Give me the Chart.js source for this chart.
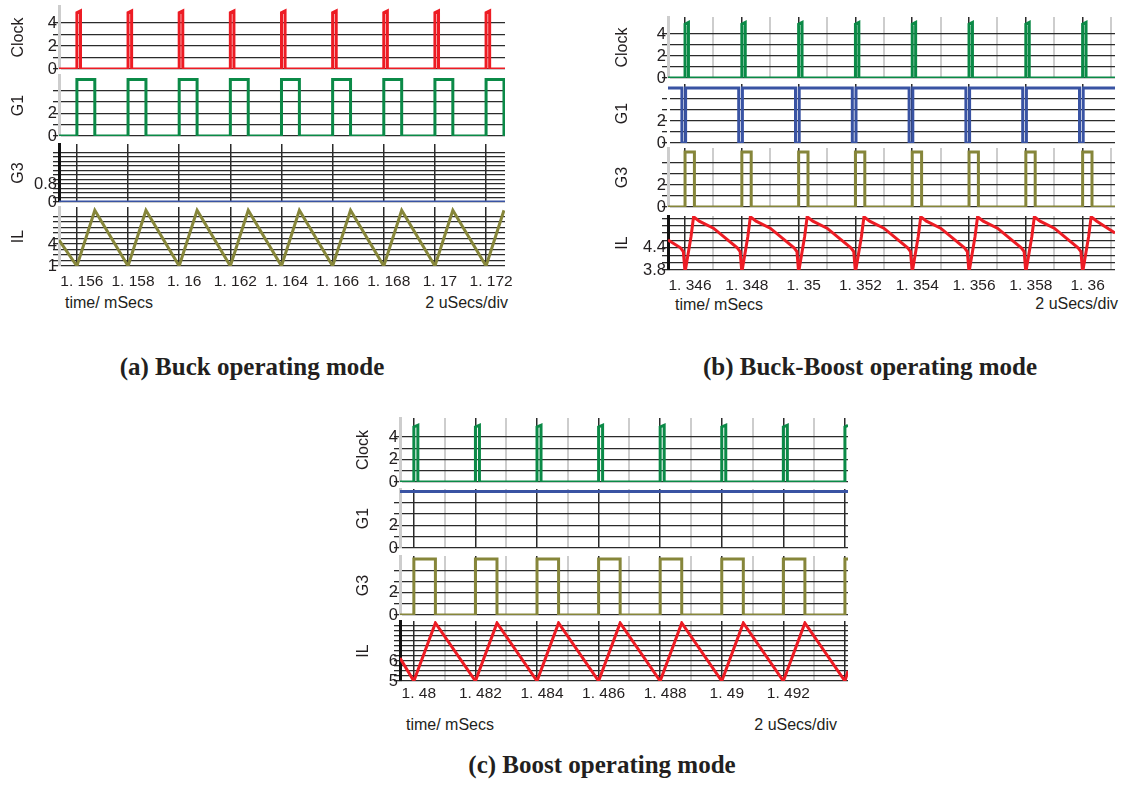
<!DOCTYPE html>
<html>
<head>
<meta charset="utf-8">
<script src="https://cdn.jsdelivr.net/npm/chart.js@4.4.1/dist/chart.umd.min.js"></script>
<style>
  body { margin: 0; background: #fff; width: 1125px; height: 785px; position: relative; overflow: hidden;
         font-family: "Liberation Sans", Arial, sans-serif; color: #231f20; }
  .box { position: absolute; }
  .lbl { position: absolute; font-size: 16px; line-height: 18px; white-space: nowrap; }
  .cap { position: absolute; font-family: "Liberation Serif", "Times New Roman", serif; font-weight: bold;
         font-size: 25px; line-height: 28px; white-space: nowrap; transform: translateX(-50%); }
</style>
</head>
<body>
<div class="lbl" style="left:65px; top:294px;">time/ mSecs</div>
<div class="lbl" style="right:617px; top:294px;">2 uSecs/div</div>
<div class="cap" style="left:252px; top:353px;">(a) Buck operating mode</div>

<div class="lbl" style="left:675px; top:296px;">time/ mSecs</div>
<div class="lbl" style="right:7px; top:295px;">2 uSecs/div</div>
<div class="cap" style="left:870px; top:353px;">(b) Buck-Boost operating mode</div>

<div class="lbl" style="left:406px; top:716px;">time/ mSecs</div>
<div class="lbl" style="right:288px; top:716px;">2 uSecs/div</div>
<div class="cap" style="left:602px; top:751px;">(c) Boost operating mode</div>

<script>
const RED = '#ed1c24', GREEN = '#0b8a47', BLUE = '#3953a3', OLIVE = '#86863a';
const TXT = '#231f20';
const FONT = '"Liberation Sans", Arial, sans-serif';

// ---- (a) Buck operating mode ----
const aRange = [1.1553, 1.17274];
const aTicks = [1.156, 1.158, 1.16, 1.162, 1.164, 1.166, 1.168, 1.17, 1.172];
const aClockUp = [1.156, 1.158, 1.16, 1.162, 1.164, 1.166, 1.168, 1.17, 1.172];
const aClockDown = [1.15614, 1.15814, 1.16014, 1.16214, 1.16414, 1.16614, 1.16814, 1.17014, 1.17214];
const aG1Up = [1.156, 1.158, 1.16, 1.162, 1.164, 1.166, 1.168, 1.17, 1.172];
const aG1Down = [1.1567, 1.1587, 1.1607, 1.1627, 1.1647, 1.1667, 1.1687, 1.1707, 1.1727];
const aG3 = [[1.1553, 0], [1.17274, 0]];
const aIL = [[1.1553, 4.55], [1.156, 1.0], [1.1567, 8.6], [1.158, 1.0], [1.1587, 8.6], [1.16, 1.0], [1.1607, 8.6],
  [1.162, 1.0], [1.1627, 8.6], [1.164, 1.0], [1.1647, 8.6], [1.166, 1.0], [1.1667, 8.6], [1.168, 1.0], [1.1687, 8.6],
  [1.17, 1.0], [1.1707, 8.6], [1.172, 1.0], [1.1727, 8.6]];

// ---- (b) Buck-Boost operating mode ----
const bRange = [1.3454, 1.36114];
const bTicks = [1.346, 1.348, 1.35, 1.352, 1.354, 1.356, 1.358, 1.36];
const bClockUp = [1.346, 1.348, 1.35, 1.352, 1.354, 1.356, 1.358, 1.36];
const bClockDown = [1.34612, 1.34812, 1.35012, 1.35212, 1.35412, 1.35612, 1.35812, 1.36012];
const bG1Up = [1.3454, 1.34602, 1.34802, 1.35002, 1.35202, 1.35402, 1.35602, 1.35802, 1.36002];
const bG1Down = [1.34589, 1.34789, 1.34989, 1.35189, 1.35389, 1.35589, 1.35789, 1.35989];
const bG3Up = [1.346, 1.348, 1.35, 1.352, 1.354, 1.356, 1.358, 1.36];
const bG3Down = [1.34633, 1.34833, 1.35033, 1.35233, 1.35433, 1.35633, 1.35833, 1.36033];
const bIL = [[1.3454, 4.61], [1.34584, 4.4], [1.34594, 4.3],
  [1.346, 3.74], [1.34621, 4.7], [1.3463, 5.24], [1.3465, 5.12], [1.347, 4.93], [1.34784, 4.4], [1.34794, 4.3],
  [1.348, 3.74], [1.34821, 4.7], [1.3483, 5.24], [1.3485, 5.12], [1.349, 4.93], [1.34984, 4.4], [1.34994, 4.3],
  [1.35, 3.74], [1.35021, 4.7], [1.3503, 5.24], [1.3505, 5.12], [1.351, 4.93], [1.35184, 4.4], [1.35194, 4.3],
  [1.352, 3.74], [1.35221, 4.7], [1.3523, 5.24], [1.3525, 5.12], [1.353, 4.93], [1.35384, 4.4], [1.35394, 4.3],
  [1.354, 3.74], [1.35421, 4.7], [1.3543, 5.24], [1.3545, 5.12], [1.355, 4.93], [1.35584, 4.4], [1.35594, 4.3],
  [1.356, 3.74], [1.35621, 4.7], [1.3563, 5.24], [1.3565, 5.12], [1.357, 4.93], [1.35784, 4.4], [1.35794, 4.3],
  [1.358, 3.74], [1.35821, 4.7], [1.3583, 5.24], [1.3585, 5.12], [1.359, 4.93], [1.35984, 4.4], [1.35994, 4.3],
  [1.36, 3.74], [1.36021, 4.7], [1.3603, 5.24], [1.3605, 5.12], [1.36114, 4.8]];

// ---- (c) Boost operating mode ----
const cRange = [1.47955, 1.4941];
const cTicks = [1.48, 1.482, 1.484, 1.486, 1.488, 1.49, 1.492];
const cClockUp = [1.48, 1.482, 1.484, 1.486, 1.488, 1.49, 1.492, 1.494];
const cClockDown = [1.48013, 1.48213, 1.48413, 1.48613, 1.48813, 1.49013, 1.49213];
const cG1 = [[1.47955, 5], [1.4941, 5]];
const cG3Up = [1.48, 1.482, 1.484, 1.486, 1.488, 1.49, 1.492, 1.494];
const cG3Down = [1.4807, 1.4827, 1.4847, 1.4867, 1.4887, 1.4907, 1.4927];
const cIL = [[1.47955, 6.15], [1.48, 5.0], [1.4807, 7.9], [1.482, 5.0], [1.4827, 7.9], [1.484, 5.0], [1.4847, 7.9],
  [1.486, 5.0], [1.4867, 7.9], [1.488, 5.0], [1.4887, 7.9], [1.49, 5.0], [1.4907, 7.9], [1.492, 5.0], [1.4927, 7.9],
  [1.494, 5.0], [1.4941, 5.5]];

// y grid lines and labelled values
const clockGrid = [0, 1, 2, 3, 4], clockLabels = [0, 2, 4];
const gateGrid = [0, 1, 2, 3, 4], gateLabels = [0, 2];
const aG3Grid = [0, 0.2, 0.4, 0.6, 0.8, 1.0, 1.2, 1.4, 1.6, 1.8, 2.0, 2.2], aG3Labels = [0, 0.8];
const aILGrid = [1, 1.75, 2.5, 3.25, 4, 4.75, 5.5, 6.25, 7, 7.75], aILLabels = [1, 4];
const bILGrid = [3.8, 4.0, 4.2, 4.4, 4.6, 4.8, 5.0, 5.2], bILLabels = [3.8, 4.4];
const cILGrid = [5, 5.25, 5.5, 5.75, 6, 6.25, 6.5, 6.75, 7, 7.25, 7.5, 7.75], cILLabels = [5, 6];

// rectangular waveform from its edge times
function pulses(range, ups, downs, lo, hiA, hiB) {
  const pts = [];
  if (ups[0] > range[0]) pts.push({x: range[0], y: lo});
  ups.forEach((u, i) => {
    const d = i < downs.length ? downs[i] : range[1];
    if (u > range[0]) pts.push({x: u, y: lo});
    pts.push({x: u, y: hiA});
    pts.push({x: d, y: hiB});
    if (i < downs.length) pts.push({x: d, y: lo});
  });
  if (downs.length >= ups.length) pts.push({x: range[1], y: lo});
  return pts;
}
const xy = arr => arr.map(p => ({x: p[0], y: p[1]}));
const isMajor = v => Math.round(v * 1000) % 2 === 0;
const fmt = v => String(v).replace('.', '. ');

const BLACK = '#2b2b2b', GREY = '#cdcdcd', NONE = 'rgba(0,0,0,0)';

const panels = [
  { range: aRange, ticks: aTicks, left: 59, width: 446, titlePad: 8, tickPad: 6.5, subs: [
    { title: 'Clock', top: 6, base: 69, min: 0, max: 5.48, grid: clockGrid, labels: clockLabels, color: RED,
      data: pulses(aRange, aClockUp, aClockDown, 0, 4.9, 5.05), vMaj: NONE, vMin: NONE, edge: GREY },
    { title: 'G1', top: 75, base: 136, min: 0, max: 5.4, grid: gateGrid, labels: gateLabels, color: GREEN,
      data: pulses(aRange, aG1Up, aG1Down, 0, 5, 5), vMaj: NONE, vMin: NONE, edge: GREY },
    { title: 'G3', top: 144, base: 202, min: 0, max: 2.58, grid: aG3Grid, labels: aG3Labels, color: BLUE,
      data: xy(aG3), vMaj: BLACK, vMin: NONE, edge: '#111' },
    { title: 'IL', top: 207, base: 266, min: 1, max: 9.05, grid: aILGrid, labels: aILLabels, color: OLIVE,
      data: xy(aIL), vMaj: BLACK, vMin: NONE, edge: GREY, bottom: true }
  ]},
  { range: bRange, ticks: bTicks, left: 668, width: 447, titlePad: 2.5, tickPad: 6.5, subs: [
    { title: 'Clock', top: 17, base: 78, min: 0, max: 5.55, grid: clockGrid, labels: clockLabels, color: GREEN,
      data: pulses(bRange, bClockUp, bClockDown, 0, 4.9, 5.05), vMaj: BLACK, vMin: GREY, edge: GREY },
    { title: 'G1', top: 84, base: 143, min: 0, max: 5.36, grid: gateGrid, labels: gateLabels, color: BLUE,
      data: pulses(bRange, bG1Up, bG1Down, 0, 5, 5), vMaj: BLACK, vMin: NONE, edge: NONE },
    { title: 'G3', top: 148, base: 207.5, min: 0, max: 5.36, grid: gateGrid, labels: gateLabels, color: OLIVE,
      data: pulses(bRange, bG3Up, bG3Down, 0, 5, 5), vMaj: BLACK, vMin: GREY, edge: GREY },
    { title: 'IL', top: 216, base: 270, min: 3.8, max: 5.26, grid: bILGrid, labels: bILLabels, color: RED,
      data: xy(bIL), vMaj: BLACK, vMin: GREY, edge: '#111', bottom: true }
  ]},
  { range: cRange, ticks: cTicks, left: 400, width: 448, titlePad: 11.5, tickPad: 3.5, subs: [
    { title: 'Clock', top: 418, base: 482, min: 0, max: 5.69, grid: clockGrid, labels: clockLabels, color: GREEN,
      data: pulses(cRange, cClockUp, cClockDown, 0, 4.9, 5.05), vMaj: BLACK, vMin: GREY, edge: GREY },
    { title: 'G1', top: 489, base: 548, min: 0, max: 5.22, grid: gateGrid, labels: gateLabels, color: BLUE,
      data: xy(cG1), vMaj: BLACK, vMin: GREY, edge: GREY },
    { title: 'G3', top: 556, base: 615, min: 0, max: 5.27, grid: gateGrid, labels: gateLabels, color: OLIVE,
      data: pulses(cRange, cG3Up, cG3Down, 0, 5, 5), vMaj: BLACK, vMin: GREY, edge: GREY },
    { title: 'IL', top: 621, base: 681, min: 5, max: 8.0, grid: cILGrid, labels: cILLabels, color: RED,
      data: xy(cIL), vMaj: BLACK, vMin: GREY, edge: '#111', bottom: true }
  ]}
];

const Y_W = 58, PAD_TOP = 10, PAD_RIGHT = 24;

function makeSub(p, s) {
  const extra = s.bottom ? 36 : 10;
  const w = Y_W + p.width + PAD_RIGHT;
  const h = PAD_TOP + (s.base - s.top) + extra;
  const box = document.createElement('div');
  box.className = 'box';
  box.style.left = (p.left - Y_W) + 'px';
  box.style.top = (s.top - PAD_TOP) + 'px';
  const cv = document.createElement('canvas');
  cv.width = w; cv.height = h;
  box.appendChild(cv);
  document.body.appendChild(box);

  new Chart(cv, {
    type: 'line',
    data: { datasets: [{ data: s.data, borderColor: s.color, borderWidth: 3, pointRadius: 0,
                         tension: 0, fill: false, borderJoinStyle: 'miter' }] },
    options: {
      responsive: false,
      animation: false,
      layout: { padding: { top: PAD_TOP, right: PAD_RIGHT, left: 0, bottom: 0 } },
      plugins: { legend: { display: false }, tooltip: { enabled: false } },
      scales: {
        x: {
          type: 'linear', min: p.range[0], max: p.range[1],
          afterFit: sc => { sc.height = extra; sc.paddingLeft = 0; sc.paddingRight = 0; },
          border: { display: false },
          grid: {
            drawTicks: false,
            color: c => isMajor(c.tick.value) ? s.vMaj : s.vMin,
            lineWidth: c => isMajor(c.tick.value) ? 1.5 : 2
          },
          ticks: {
            display: !!s.bottom, stepSize: 0.001, includeBounds: false, autoSkip: false, maxRotation: 0,
            padding: p.tickPad, labelOffset: 5, color: TXT, font: { family: FONT, size: 15.5 },
            callback: v => p.ticks.some(t => Math.abs(t - v) < 1e-7) ? fmt(v) : ''
          }
        },
        y: {
          min: s.min, max: s.max,
          afterFit: sc => { sc.width = Y_W; sc.paddingTop = 0; sc.paddingBottom = 0; },
          afterBuildTicks: sc => { sc.ticks = s.grid.map(v => ({ value: v })); },
          border: { display: true, color: s.edge, width: 3 },
          grid: { color: BLACK, lineWidth: 1.3, drawTicks: true, tickLength: 6 },
          ticks: {
            autoSkip: false, padding: -4, color: TXT, font: { family: FONT, size: 16.5 },
            callback: v => s.labels.includes(v) ? String(v) : ''
          },
          title: { display: true, text: s.title, color: TXT, font: { family: FONT, size: 16 },
                   padding: { top: p.titlePad, bottom: 0 } }
        }
      }
    }
  });
}

panels.forEach(p => p.subs.forEach(s => makeSub(p, s)));
</script>
</body>
</html>
